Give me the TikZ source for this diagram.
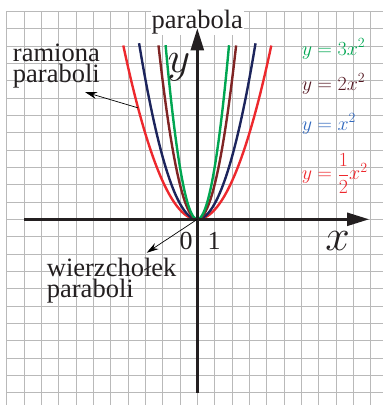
\RequirePackage{fix-cm}
\documentclass[tikz,border=0pt]{standalone}
\usepackage{fontspec}
\setmainfont{Liberation Serif}
\usepackage{amsmath}
\usetikzlibrary{arrows.meta}
\definecolor{gridc}{RGB}{185,185,185}
\definecolor{axc}{RGB}{35,31,32}
\definecolor{cgreen}{RGB}{0,166,81}
\definecolor{cbrown}{RGB}{128,36,36}
\definecolor{cbrownt}{RGB}{85,25,35}
\definecolor{cnavy}{RGB}{28,36,92}
\definecolor{cbluet}{RGB}{50,105,190}
\definecolor{cred}{RGB}{237,40,45}
\begin{document}
\begin{tikzpicture}[x=17.33pt,y=17.33pt,
 gridline/.style={draw=gridc,line width=0.8pt},
 axis/.style={draw=axc,line width=2.4pt,-{Triangle[length=22pt,width=13pt]}},
 curve/.style={line width=2.4pt},
 leader/.style={draw=black,line width=0.7pt,-{Stealth[length=12pt,width=7pt]}},
 lbl/.style={font=\fontsize{26.5}{21}\selectfont,inner sep=0pt,align=left,text=axc},
 eq/.style={font=\fontsize{20}{24}\selectfont,inner sep=0pt,anchor=base west},
 axlbl/.style={font=\fontsize{44}{50}\selectfont,inner sep=0pt,anchor=base,text=axc},
 num/.style={font=\fontsize{26}{30}\selectfont,inner sep=0pt,anchor=base,text=axc}]
\useasboundingbox (-11.385,-10.715) rectangle (10.715,12.654);
% grid
\foreach \i in {-11,...,10} \draw[gridline] (\i,-10.715) -- (\i,12);
\foreach \j in {-10,...,12} \draw[gridline] (-11,\j) -- (10.715,\j);
% title
\node[lbl,anchor=base,fill=white,inner sep=1pt] (ptitle) at (0,11.02) {parabola};
% curves
\draw[curve,draw=cred] plot[domain=-4.27:4.27,samples=80] (\x,{0.55*\x*\x});
\draw[curve,draw=cnavy] plot[domain=-3.36:3.36,samples=80] (\x,{0.9*\x*\x});
\draw[curve,draw=cbrown] plot[domain=-2.24:2.24,samples=80] (\x,{2*\x*\x});
\draw[curve,draw=cgreen] plot[domain=-1.83:1.83,samples=80] (\x,{3*\x*\x});
% axes
\coordinate (xs) at (-10,0); \coordinate (xe) at (9.91,0);
\coordinate (ys) at (0,-10); \coordinate (ye) at (0,11.02);
\draw[axis] (xs) -- (xe);
\draw[axis] (ys) -- (ye);
% axis labels
\node[axlbl] (xl) at (8.09,-1.78) {$x$};
\node[axlbl] (yl) at (-1.06,8.47) {$y$};
\node[num] (n0) at (-0.64,-1.77) {0};
\node[num] (n1) at (0.97,-1.77) {1};
% equations
\node[eq,text=cgreen] (e3) at (6.02,9.48) {$y=3x^2$};
\node[eq,text=cbrownt] (e2) at (6.02,7.46) {$y=2x^2$};
\node[eq,text=cbluet] (e1) at (6.02,5.15) {$y=x^2$};
\node[eq,text=cred] (eh) at (6.02,2.27) {$y=\dfrac{1}{2}x^2$};
% annotations
\node[lbl,anchor=north west] (ram) at (-10.65,10.12) {ramiona\\paraboli};
\node[lbl,anchor=north west] (wie) at (-8.69,-2.25) {wierzchołek\\paraboli};
\coordinate (rpt) at (-3.42,6.43); \coordinate (rtip) at (-6.48,7.34);
\draw[leader] (rpt) -- (rtip);
\coordinate (vtx) at (0,0); \coordinate (vtip) at (-2.92,-1.93);
\draw[leader] (vtx) -- (vtip);
\end{tikzpicture}
\end{document}
